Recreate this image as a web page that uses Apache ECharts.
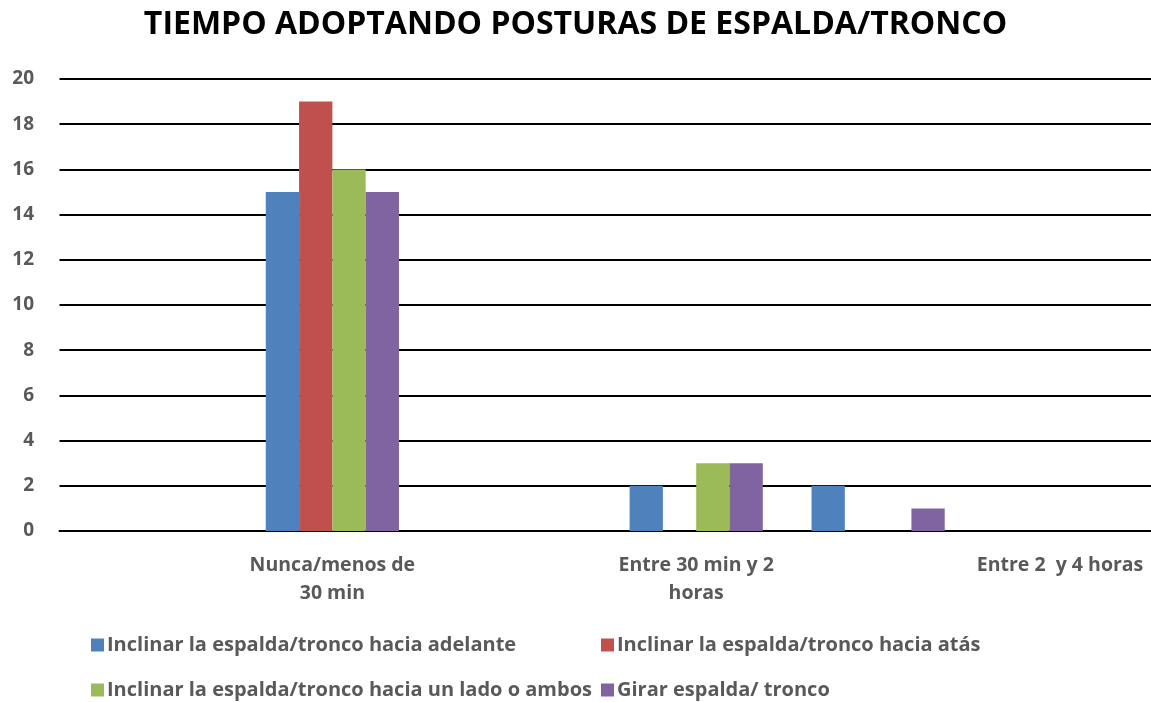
<!DOCTYPE html>
<html>
<head>
<meta charset="utf-8">
<script src="https://cdn.jsdelivr.net/npm/echarts@6/dist/echarts.min.js"></script>
<style>
  html, body { margin: 0; padding: 0; background: #fff; }
  #chart { width: 1151px; height: 702px; }
</style>
</head>
<body>
<div id="chart"></div>
<script>
const categories = ['', 'Nunca/menos de\n30 min', '', 'Entre 30 min y 2\nhoras', '', 'Entre 2  y 4 horas']
const seriesNames = [
  'Inclinar la espalda/tronco hacia adelante',
  'Inclinar la espalda/tronco hacia atás',
  'Inclinar la espalda/tronco hacia un lado o ambos',
  'Girar espalda/ tronco',
]
const adelante = [0, 15, 0, 2, 2, 0]
const atras = [0, 19, 0, 0, 0, 0]
const lado = [0, 16, 0, 3, 0, 0]
const girar = [0, 15, 0, 3, 1, 0]
const yTicks = [0, 20, 2] // min, max, interval

const colors = ['#4F81BD', '#C0504D', '#9BBB59', '#8064A2']
const values = [adelante, atras, lado, girar]
const font = '"Open Sans", sans-serif'
const gray = '#595959'

// legend laid out in two columns, one legend per item
const legendPos = [
  { left: 86, top: 630 },
  { left: 596, top: 630 },
  { left: 86, top: 675 },
  { left: 596, top: 675 },
]

const chart = echarts.init(document.getElementById('chart'))
chart.setOption({
  backgroundColor: '#fff',
  animation: false,
  title: {
    text: 'TIEMPO ADOPTANDO POSTURAS DE ESPALDA/TRONCO',
    left: 'center',
    top: 4,
    textStyle: { fontFamily: font, fontWeight: 'bold', fontSize: 32, color: '#000' },
  },
  legend: seriesNames.map((name, i) => ({
    data: [name],
    left: legendPos[i].left,
    top: legendPos[i].top,
    itemWidth: 13,
    itemHeight: 13,
    itemGap: 0,
    icon: 'rect',
    textStyle: { fontFamily: font, fontWeight: 'bold', fontSize: 20, color: gray, padding: [0, 0, 0, -2] },
  })),
  grid: { left: 59.5, top: 79, width: 1096, height: 452 },
  xAxis: {
    type: 'category',
    data: categories,
    axisTick: { show: false },
    axisLine: { lineStyle: { color: '#000', width: 2 } },
    axisLabel: {
      interval: 0,
      margin: 20,
      fontFamily: font,
      fontWeight: 'bold',
      fontSize: 19.5,
      lineHeight: 28,
      color: gray,
    },
  },
  yAxis: {
    type: 'value',
    min: yTicks[0],
    max: yTicks[1],
    interval: yTicks[2],
    axisLine: { show: false },
    axisTick: { show: false },
    splitLine: { lineStyle: { color: '#000', width: 2 } },
    axisLabel: { margin: 25.5, fontFamily: font, fontWeight: 'bold', fontSize: 19, color: gray },
  },
  series: seriesNames.map((name, i) => ({
    name,
    type: 'bar',
    data: values[i],
    barWidth: 33.3,
    barGap: '0%',
    itemStyle: { color: colors[i] },
  })),
})
</script>
</body>
</html>
